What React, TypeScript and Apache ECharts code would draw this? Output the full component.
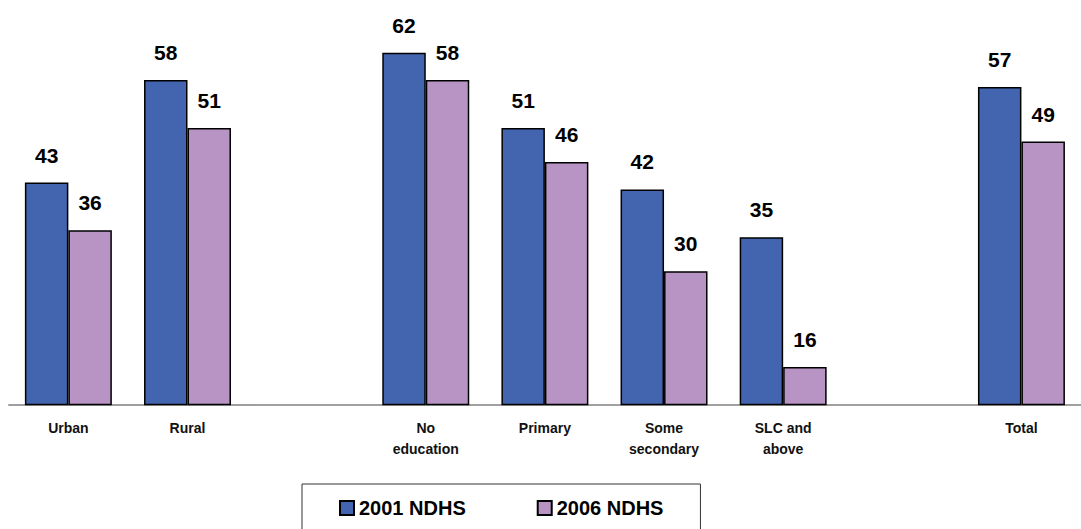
import React, { useEffect, useRef } from "react";
import * as echarts from "echarts";

const categories = ["Urban", "Rural", "", "No\neducation", "Primary", "Some\nsecondary", "SLC and\nabove", " ", "Total"];
const series2001 = [43, 58, null, 62, 51, 42, 35, null, 57];
const series2006 = [36, 51, null, 58, 46, 30, 16, null, 49];
const seriesNames = ["2001 NDHS", "2006 NDHS"];

const FONT = "'Liberation Sans', Arial, sans-serif";

export default function App() {
  const ref = useRef<HTMLDivElement>(null);
  useEffect(() => {
    const chart = echarts.init(ref.current!, null, { renderer: "svg" });
    const label = {
      show: true,
      position: "top",
      distance: 17,
      color: "#000",
      fontWeight: "bold",
      fontSize: 21,
      fontFamily: FONT,
    };
    chart.setOption({
      animation: false,
      backgroundColor: "#fff",
      grid: { left: 8.8, width: 1083, top: 5, height: 399.5, containLabel: false },
      xAxis: {
        type: "category",
        data: categories,
        axisTick: { show: false },
        axisLine: { lineStyle: { color: "#808080", width: 1.5 } },
        axisLabel: {
          interval: 0,
          color: "#111",
          fontWeight: "bold",
          fontSize: 14,
          fontFamily: FONT,
          margin: 13,
          lineHeight: 21,
        },
      },
      yAxis: { type: "value", min: 10.5, max: 69, show: false, splitLine: { show: false } },
      legend: {
        left: 302,
        top: 484,
        orient: "horizontal",
        icon: "rect",
        itemWidth: 14,
        itemHeight: 14,
        itemGap: 71,
        padding: [14, 37, 40, 37],
        borderColor: "#333",
        borderWidth: 1,
        textStyle: { fontSize: 20, fontWeight: "bold", color: "#000", fontFamily: FONT },
        data: seriesNames,
      },
      series: [
        {
          name: seriesNames[0],
          type: "bar",
          data: series2001,
          barGap: "0%",
          barCategoryGap: "27%",
          itemStyle: { color: "#4364AE", borderColor: "#000", borderWidth: 1.5 },
          label,
        },
        {
          name: seriesNames[1],
          type: "bar",
          data: series2006,
          barGap: "0%",
          barCategoryGap: "27%",
          itemStyle: { color: "#B794C4", borderColor: "#000", borderWidth: 1.5 },
          label,
        },
      ],
    });
    return () => chart.dispose();
  }, []);
  return (
    <div
      ref={ref}
      style={{ position: "fixed", left: 0, top: 0, width: 1081, height: 529 }}
    />
  );
}
